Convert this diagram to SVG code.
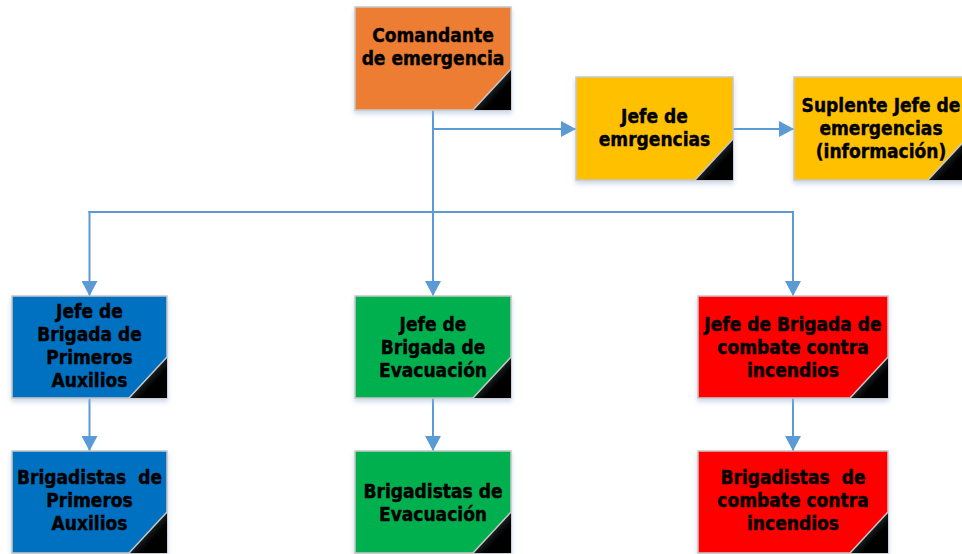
<svg xmlns="http://www.w3.org/2000/svg" width="962" height="554" viewBox="0 0 962 554">
<style>
.box{stroke:#C8C8C8;stroke-width:1.5}
.t{font-family:"DejaVu Sans Condensed","DejaVu Sans",sans-serif;font-stretch:condensed;font-weight:bold;font-size:19px;fill:#000;stroke:#000;stroke-width:0.4;text-anchor:middle}
.conn{fill:none;stroke:#5B9BD5;stroke-width:2;stroke-linecap:square}
.tri{fill:url(#tg)}
.hyp{stroke:#C8C8C8;stroke-width:1.5}
</style>
<defs>
<linearGradient id="tg" x1="0" y1="0" x2="1" y2="1">
<stop offset="0.3" stop-color="#3A4A50"/>
<stop offset="0.65" stop-color="#000"/>
</linearGradient>
<filter id="sh" x="-10%" y="-10%" width="120%" height="130%">
<feDropShadow dx="0" dy="3" stdDeviation="2.5" flood-color="#9FB6D3" flood-opacity="0.55"/>
</filter>
<marker id="ar" markerUnits="userSpaceOnUse" viewBox="0 0 15 16" markerWidth="15" markerHeight="16" refX="15" refY="8" orient="auto">
<path d="M0,0 L15,8 L0,16 Z" fill="#5B9BD5"/>
</marker>
</defs>

<g id="connectors">
<path class="conn" d="M433,111 V212"/>
<path class="conn" d="M433,129 H576" marker-end="url(#ar)"/>
<path class="conn" d="M734,129 H794" marker-end="url(#ar)"/>
<path class="conn" d="M89.5,212 H793 V296" marker-end="url(#ar)"/>
<path class="conn" d="M89.5,212 V296" marker-end="url(#ar)"/>
<path class="conn" d="M433,212 V296" marker-end="url(#ar)"/>
<path class="conn" d="M89.5,399 V451" marker-end="url(#ar)"/>
<path class="conn" d="M433,399 V451" marker-end="url(#ar)"/>
<path class="conn" d="M793,399 V451" marker-end="url(#ar)"/>
</g>

<g id="comandante">
<rect class="box" x="355" y="7" width="156" height="103" fill="#ED7D31" filter="url(#sh)"/>
<path class="tri" d="M473,110 L511,69 L511,110 Z"/>
<line class="hyp" x1="473" y1="110" x2="511" y2="69"/>
<text class="t" x="433" y="42">Comandante</text>
<text class="t" x="433" y="65">de emergencia</text>
</g>

<g id="jefe-emergencias">
<rect class="box" x="576" y="77" width="157" height="103" fill="#FFC000" filter="url(#sh)"/>
<path class="tri" d="M695,180 L733,139 L733,180 Z"/>
<line class="hyp" x1="695" y1="180" x2="733" y2="139"/>
<text class="t" x="654.5" y="123">Jefe de</text>
<text class="t" x="654.5" y="146">emrgencias</text>
</g>

<g id="suplente">
<rect class="box" x="794" y="77" width="172" height="103" fill="#FFC000" filter="url(#sh)"/>
<path class="tri" d="M928,180 L966,139 L966,180 Z"/>
<line class="hyp" x1="928" y1="180" x2="966" y2="139"/>
<text class="t" x="881" y="112">Suplente Jefe de</text>
<text class="t" x="881" y="135">emergencias</text>
<text class="t" x="881" y="158">(información)</text>
</g>

<g id="jefe-primeros-auxilios">
<rect class="box" x="12" y="296" width="155" height="102" fill="#0070C0" filter="url(#sh)"/>
<path class="tri" d="M129,398 L167,357 L167,398 Z"/>
<line class="hyp" x1="129" y1="398" x2="167" y2="357"/>
<text class="t" x="89.5" y="318">Jefe de</text>
<text class="t" x="89.5" y="341">Brigada de</text>
<text class="t" x="89.5" y="364">Primeros</text>
<text class="t" x="89.5" y="387">Auxilios</text>
</g>

<g id="jefe-evacuacion">
<rect class="box" x="355" y="296" width="156" height="102" fill="#00B050" filter="url(#sh)"/>
<path class="tri" d="M473,398 L511,357 L511,398 Z"/>
<line class="hyp" x1="473" y1="398" x2="511" y2="357"/>
<text class="t" x="433" y="331">Jefe de</text>
<text class="t" x="433" y="354">Brigada de</text>
<text class="t" x="433" y="377">Evacuación</text>
</g>

<g id="jefe-incendios">
<rect class="box" x="698" y="296" width="190" height="102" fill="#FF0000" filter="url(#sh)"/>
<path class="tri" d="M850,398 L888,357 L888,398 Z"/>
<line class="hyp" x1="850" y1="398" x2="888" y2="357"/>
<text class="t" x="793" y="331">Jefe de Brigada de</text>
<text class="t" x="793" y="354">combate contra</text>
<text class="t" x="793" y="377">incendios</text>
</g>

<g id="brigadistas-primeros-auxilios">
<rect class="box" x="12" y="451" width="155" height="102" fill="#0070C0" filter="url(#sh)"/>
<path class="tri" d="M129,553 L167,512 L167,553 Z"/>
<line class="hyp" x1="129" y1="553" x2="167" y2="512"/>
<text class="t" x="89.5" y="484" xml:space="preserve">Brigadistas  de</text>
<text class="t" x="89.5" y="507">Primeros</text>
<text class="t" x="89.5" y="530">Auxilios</text>
</g>

<g id="brigadistas-evacuacion">
<rect class="box" x="355" y="451" width="156" height="102" fill="#00B050" filter="url(#sh)"/>
<path class="tri" d="M473,553 L511,512 L511,553 Z"/>
<line class="hyp" x1="473" y1="553" x2="511" y2="512"/>
<text class="t" x="433" y="498">Brigadistas de</text>
<text class="t" x="433" y="521">Evacuación</text>
</g>

<g id="brigadistas-incendios">
<rect class="box" x="698" y="451" width="190" height="102" fill="#FF0000" filter="url(#sh)"/>
<path class="tri" d="M850,553 L888,512 L888,553 Z"/>
<line class="hyp" x1="850" y1="553" x2="888" y2="512"/>
<text class="t" x="793" y="484" xml:space="preserve">Brigadistas  de</text>
<text class="t" x="793" y="507">combate contra</text>
<text class="t" x="793" y="530">incendios</text>
</g>
</svg>
